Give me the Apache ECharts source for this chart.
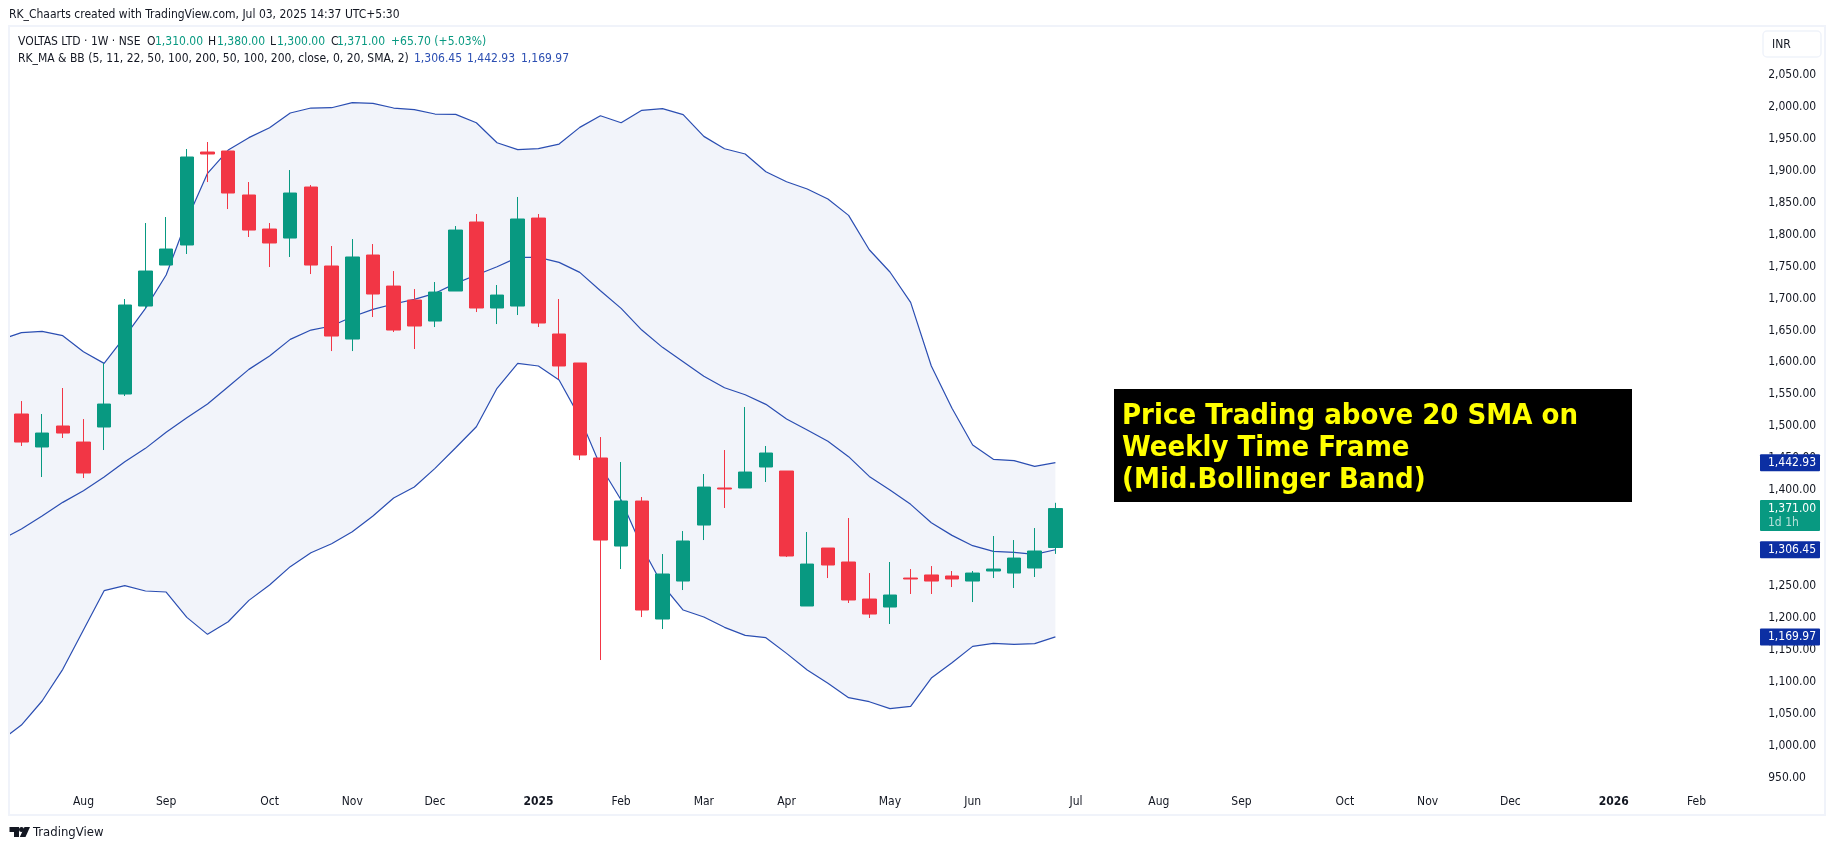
<!DOCTYPE html>
<html>
<head>
<meta charset="utf-8">
<title>VOLTAS LTD 1W</title>
<script src="https://cdn.jsdelivr.net/npm/echarts@6/dist/echarts.min.js"></script>
<style>
  html, body { margin: 0; padding: 0; background: #fff; }
  #chart { width: 1835px; height: 850px; }
</style>
</head>
<body>
<div id="chart"></div>
<script>
// weekly candles (first slot of the bands is the week before the first candle, off the left edge)
const openP = [1519.1,1467.4,1500.3,1475.2,1498.7,1550.4,1688.2,1752.4,1783.8,1929.4,1931,1862.1,1808.8,1794.7,1874.6,1750.9,1636.5,1768.1,1719.5,1697.6,1664.7,1711.7,1819.8,1685.1,1688.2,1826,1644.4,1599,1450.2,1312.3,1382.8,1198,1257.5,1345.2,1403.2,1403.2,1436.1,1429.8,1218.4,1309.2,1287.3,1229.3,1216.8,1262.2,1267,1265.4,1257.5,1273.2,1270,1277.9,1310]
const closeP = [1475.2,1489.3,1489.3,1426.7,1534.7,1689.8,1743,1777.5,1921.6,1926.3,1865.2,1807.2,1786.9,1865.2,1752.4,1641.2,1765,1707,1650.6,1656.9,1710.1,1807.2,1685.1,1705.4,1824.5,1661.6,1594.3,1454.9,1321.7,1382.8,1212.1,1268.5,1320.2,1404.7,1401.6,1428.2,1458,1296.7,1284.1,1282.6,1227.8,1205.8,1235.6,1260.7,1257.5,1260.7,1270,1276.3,1293.5,1304.5,1371]
const lowP = [1469,1420.4,1481.5,1418.8,1462.7,1547.3,1684,1752.4,1769.7,1882.4,1840.1,1796.3,1749.3,1765,1738.3,1617.7,1617.7,1671,1647.5,1620.9,1655.3,1711.7,1678.8,1660,1674.1,1655.3,1573.9,1447,1133.8,1276.3,1201.1,1182.3,1243.4,1321.7,1371.9,1403.2,1412.6,1295.1,1218.4,1262.2,1223.1,1199.6,1190.2,1237.2,1237.2,1248.1,1224.6,1262.2,1246.6,1263.8,1300]
const highP = [1539.4,1519.1,1559.8,1511.2,1598.4,1699.2,1818.2,1827.6,1934.1,1945.1,1931,1882.4,1818.2,1901.2,1877.7,1782.2,1793.1,1785.3,1743,1714.8,1725.8,1813.5,1832.3,1721.1,1859,1832.3,1699.2,1599,1483,1443.9,1389.1,1299.8,1335.8,1425.1,1462.7,1530,1469,1429.8,1334.3,1309.2,1356.2,1270,1287.3,1276.3,1281,1273.2,1273.2,1328,1321.7,1340.5,1380]

const bbUpper = [1635.5,1646.5,1648.5,1641.8,1616.7,1598.4,1640.2,1684.6,1736.8,1822.9,1896,1932.5,1951.9,1967.5,1990.5,1998.3,1998.8,2006.7,2005.6,1998.3,1995.7,1988.9,1988.4,1975.3,1944,1933.1,1934.6,1941.9,1968,1986.3,1975.3,1994.7,1997.3,1987.9,1953.9,1934.6,1926.3,1898.6,1882.9,1871.5,1855.8,1830.2,1776.4,1741.5,1694,1594.3,1528,1470.5,1448.1,1446,1437.1,1442.93]
const bbMid = [1321.7,1339,1359.3,1380.7,1399,1420.4,1444.4,1465.3,1490.4,1513.3,1534.7,1561.9,1589,1609.9,1636,1650.6,1656.9,1671.5,1683,1691.4,1698.7,1708.1,1723.7,1736.8,1749.8,1764.4,1764.4,1756.6,1740.9,1712.2,1684.6,1650.6,1623.5,1601,1578.1,1560.3,1549.3,1534.2,1511.2,1494,1476.3,1452.3,1421.4,1400,1377.6,1348.9,1329,1312.9,1304,1302.4,1299.3,1306.45]
const bbLower = [1007.5,1032,1069.6,1119.2,1180.8,1242.4,1250.2,1241.9,1240.3,1200.6,1174,1193.8,1227.2,1251.3,1280,1301.9,1316,1334.8,1359.3,1387.5,1404.7,1434,1466.3,1499.2,1559.3,1598.4,1594.3,1572.3,1513.8,1437.6,1384.4,1311.3,1251.3,1212.1,1201.1,1185,1172.4,1168.8,1144.2,1118.1,1097.3,1074.8,1068.5,1057.6,1061.2,1105.6,1129.6,1155.2,1159.9,1158.3,1159.4,1169.97]

const timeLabels = ['Aug','Sep','Oct','Nov','Dec','2025','Feb','Mar','Apr','May','Jun','Jul','Aug','Sep','Oct','Nov','Dec','2026','Feb']
const timeSlots = [4,8,13,17,21,26,30,34,38,43,47,52,56,60,65,69,73,78,82]
const yearLabels = ['2025','2026']

const WEEK_SLOTS = 85
const slots = []
for (let i = 0; i < WEEK_SLOTS; i++) slots.push(String(i))

const candles = [[null,null,null,null]]
openP.forEach((o, i) => candles.push([o, closeP[i], lowP[i], highP[i]]))

const GREEN = '#089981'
const RED = '#F23645'
const BAND = '#2B4EB2'
const TAG = '#0C2FA3'
const INK = '#131722'
const FONT = '"DejaVu Sans Condensed", "DejaVu Sans", sans-serif'

const chart = echarts.init(document.getElementById('chart'), null, { renderer: 'canvas' })

chart.setOption({
  animation: false,
  backgroundColor: '#fff',
  grid: { left: -9.62, top: 43.1, width: 1757.8, height: 766.2, outerBoundsMode: 'none' },
  xAxis: {
    type: 'category',
    data: slots,
    boundaryGap: true,
    axisLine: { show: false },
    axisTick: { show: false },
    splitLine: { show: false },
    axisLabel: {
      inside: true,
      margin: 1,
      interval: 0,
      color: INK,
      fontFamily: FONT,
      fontSize: 12,
      hideOverlap: false,
      formatter: (val) => {
        const k = timeSlots.indexOf(Number(val))
        if (k < 0) return ''
        const t = timeLabels[k]
        return yearLabels.includes(t) ? '{b|' + t + '}' : t
      },
      rich: { b: { fontWeight: 'bold', fontFamily: FONT, fontSize: 12, color: INK } }
    }
  },
  yAxis: {
    type: 'value',
    position: 'right',
    min: 900,
    max: 2100,
    interval: 50,
    axisLine: { show: false },
    axisTick: { show: false },
    splitLine: { show: false },
    axisLabel: {
      margin: 20,
      color: INK,
      fontFamily: FONT,
      fontSize: 12,
      formatter: (v) => (v === 900 || v === 2100) ? '' : v.toLocaleString('en-US', { minimumFractionDigits: 2, maximumFractionDigits: 2 })
    }
  },
  series: [
    // band fill is lower + (upper - lower) stacked
    { type: 'line', name: 'base', stack: 'bb', data: bbLower, showSymbol: false, lineStyle: { width: 0 }, z: 1, silent: true },
    { type: 'line', name: 'fill', stack: 'bb', data: bbUpper.map((v, i) => v - bbLower[i]), showSymbol: false, lineStyle: { width: 0 }, areaStyle: { color: '#F2F4FA', opacity: 1 }, z: 1, silent: true },
    { type: 'line', name: 'upper', data: bbUpper, showSymbol: false, lineStyle: { color: BAND, width: 1.2 }, z: 2, silent: true },
    { type: 'line', name: 'mid', data: bbMid, showSymbol: false, lineStyle: { color: BAND, width: 1.2 }, z: 2, silent: true },
    { type: 'line', name: 'lower', data: bbLower, showSymbol: false, lineStyle: { color: BAND, width: 1.2 }, z: 2, silent: true },
    {
      type: 'candlestick',
      data: candles,
      barWidth: 14,
      z: 5,
      silent: true,
      itemStyle: { color: GREEN, color0: RED, borderColor: GREEN, borderColor0: RED, borderWidth: 1 }
    }
  ]
})

function txt(x, y, text, fill, size, weight) {
  return {
    type: 'text', z: 50,
    style: { x: x, y: y, text: text, fill: fill || INK, font: (weight || 'normal') + ' ' + (size || 12) + 'px ' + FONT, textVerticalAlign: 'middle' }
  }
}

// price tags sit on the y axis scale
function tag(value, bg, note) {
  const y = chart.convertToPixel({ yAxisIndex: 0 }, value)
  const label = value.toLocaleString('en-US', { minimumFractionDigits: 2 })
  const els = [{ type: 'rect', z: 40, shape: { x: 1760, y: y - 8.5, width: 60, height: note ? 31 : 17, r: 1 }, style: { fill: bg } }, txt(1768, y, label, '#fff', 12)]
  if (note) els.push(txt(1768, y + 14, note, 'rgba(255,255,255,0.7)', 12))
  return els
}

chart.setOption({
  graphic: {
    elements: [
      { type: 'rect', z: 30, shape: { x: 0, y: 26, width: 9, height: 790 }, style: { fill: '#fff' } },
      { type: 'rect', z: 31, shape: { x: 9, y: 26, width: 1816, height: 789 }, style: { fill: 'none', stroke: '#F0F3FA', lineWidth: 2 } },

      txt(9, 15, 'RK_Chaarts created with TradingView.com, Jul 03, 2025 14:37 UTC+5:30'),

      txt(18, 42, 'VOLTAS LTD · 1W · NSE'),
      txt(147, 42, 'O'), txt(155, 42, '1,310.00', GREEN),
      txt(208, 42, 'H'), txt(217, 42, '1,380.00', GREEN),
      txt(270, 42, 'L'), txt(277, 42, '1,300.00', GREEN),
      txt(331, 42, 'C'), txt(337, 42, '1,371.00', GREEN),
      txt(391, 42, '+65.70 (+5.03%)', GREEN),

      txt(18, 59, 'RK_MA & BB (5, 11, 22, 50, 100, 200, 50, 100, 200, close, 0, 20, SMA, 2)'),
      txt(414, 59, '1,306.45', BAND), txt(467, 59, '1,442.93', BAND), txt(521, 59, '1,169.97', BAND),

      { type: 'rect', z: 40, shape: { x: 1763, y: 31, width: 58, height: 26, r: 4 }, style: { fill: '#fff', stroke: '#F0F3FA', lineWidth: 1.5 } },
      txt(1772, 45, 'INR'),

      { type: 'rect', z: 35, shape: { x: 1114, y: 389, width: 518, height: 113 }, style: { fill: '#000' } },
      txt(1122, 416, 'Price Trading above 20 SMA on', '#FFFF00', 29, 'bold'),
      txt(1122, 448, 'Weekly Time Frame', '#FFFF00', 29, 'bold'),
      txt(1122, 480, '(Mid.Bollinger Band)', '#FFFF00', 29, 'bold'),

      ...tag(1442.93, TAG),
      ...tag(1371, GREEN, '1d 1h'),
      ...tag(1306.45, TAG),
      ...tag(1169.97, TAG),

      // TradingView mark
      { type: 'polygon', z: 50, shape: { points: [[9.5,827],[19,827],[19,837],[14,837],[14,832],[9.5,832]] }, style: { fill: INK } },
      { type: 'circle', z: 50, shape: { cx: 21.5, cy: 829.5, r: 2.5 }, style: { fill: INK } },
      { type: 'polygon', z: 50, shape: { points: [[24.5,827],[30,827],[25.5,837],[19.8,837]] }, style: { fill: INK } },
      txt(33, 833, 'TradingView', INK, 13)
    ]
  }
})
</script>
</body>
</html>
